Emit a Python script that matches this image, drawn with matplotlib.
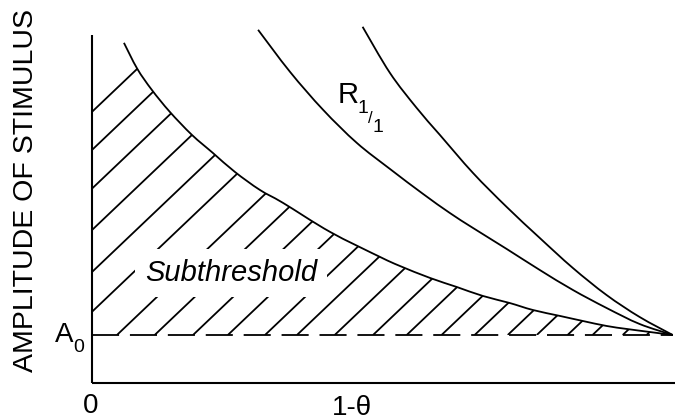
import matplotlib
matplotlib.use("Agg")
import numpy as np
import matplotlib.pyplot as plt
from matplotlib.patches import Polygon, PathPatch
from matplotlib.path import Path

plt.rcParams['font.family'] = ['Liberation Sans', 'DejaVu Sans']

# Stimulus phase (1-theta, scaled 0..1) and amplitude (in units of A0)
threshold_x = [0.055, 0.078, 0.103, 0.134, 0.172, 0.208, 0.246, 0.289, 0.329,
               0.410, 0.496, 0.530, 0.582, 0.628, 0.673, 0.719, 0.759, 0.806,
               0.845, 0.886, 0.921, 0.960, 1.000]
threshold_y = [7.083, 6.542, 6.104, 5.646, 5.167, 4.792, 4.396, 4.021, 3.750,
               3.146, 2.625, 2.438, 2.188, 2.000, 1.813, 1.667, 1.521, 1.396,
               1.292, 1.188, 1.125, 1.063, 1.000]

r11_x = [0.286, 0.341, 0.398, 0.456, 0.513, 0.570, 0.616, 0.656, 0.714, 0.771,
         0.828, 0.886, 0.943, 1.000]
r11_y = [7.354, 6.479, 5.688, 5.000, 4.458, 3.938, 3.542, 3.229, 2.792, 2.354,
         1.938, 1.563, 1.229, 1.000]

upper_x = [0.466, 0.513, 0.559, 0.599, 0.656, 0.714, 0.771, 0.828, 0.886,
           0.943, 1.000]
upper_y = [7.417, 6.458, 5.729, 5.167, 4.375, 3.667, 3.021, 2.396, 1.833,
           1.375, 1.000]

a0_level = 1.0
# where each hatch stroke crosses the A0 level
hatch_starts = [-0.404, -0.335, -0.265, -0.190, -0.114, -0.042, 0.043, 0.108,
                0.174, 0.234, 0.298, 0.353, 0.418, 0.484, 0.542, 0.602, 0.659,
                0.716, 0.766, 0.819, 0.862, 0.914, 0.955]
hatch_slope = 11.5


def smooth_path(xs, ys):
    """Cubic Bezier path passing through every given point (Catmull-Rom)."""
    p = np.column_stack([xs, ys]).astype(float)
    verts = [p[0]]
    codes = [Path.MOVETO]
    n = len(p)
    for i in range(n - 1):
        p0 = p[i - 1] if i > 0 else p[i]
        p1, p2 = p[i], p[i + 1]
        p3 = p[i + 2] if i + 2 < n else p[i + 1]
        c1 = p1 + (p2 - p0) / 6.0
        c2 = p2 - (p3 - p1) / 6.0
        verts += [c1, c2, p2]
        codes += [Path.CURVE4] * 3
    return Path(np.array(verts), codes)


W, H = 675, 420
fig = plt.figure(figsize=(W / 100, H / 100), dpi=100)
ax = fig.add_axes([92 / W, 37 / H, 583 / W, 365 / H])
ax.set_xlim(0, 1.004)
ax.set_ylim(0, 7.6)
ax.axis('off')

lw = 1.3
ink = 'black'

# axes lines
ax.plot([0, 0], [0, 7.25], color=ink, lw=1.5, clip_on=False, solid_capstyle='butt')
ax.plot([0, 1.004], [0, 0], color=ink, lw=1.5, clip_on=False, solid_capstyle='butt')

# curves
for xs, ys in [(threshold_x, threshold_y), (r11_x, r11_y), (upper_x, upper_y)]:
    ax.add_patch(PathPatch(smooth_path(xs, ys), facecolor='none',
                           edgecolor=ink, lw=lw, clip_on=False))

# A0 dashed level
ax.plot([0, 1.0], [a0_level, a0_level], color=ink, lw=lw, dashes=(15, 6),
        clip_on=False)

# hatched subthreshold region
region = [(0, a0_level), (1.0, a0_level)]
region += list(zip(threshold_x[::-1], threshold_y[::-1]))
region += [(0, threshold_y[0])]
clip = Polygon(region, closed=True, transform=ax.transData, facecolor='none',
               edgecolor='none')
for x0 in hatch_starts:
    dy = 8.0
    line, = ax.plot([x0, x0 + dy / hatch_slope], [a0_level, a0_level + dy],
                    color=ink, lw=lw, solid_capstyle='butt')
    line.set_clip_path(clip)

# labels
def fx(px):
    return px / W

def fy(py):
    return 1 - py / H

fig.text(fx(26), fy(190), 'AMPLITUDE OF STIMULUS', rotation=90,
         ha='center', va='center', fontsize=20.5, color=ink)
fig.text(fx(64), fy(342), 'A', ha='center', va='baseline', fontsize=20, color=ink)
fig.text(fx(79), fy(352), '0', ha='center', va='baseline', fontsize=14, color=ink)
fig.text(fx(91), fy(413), '0', ha='center', va='baseline', fontsize=20, color=ink)
fig.text(fx(352), fy(415), '1-θ', ha='center', va='baseline', fontsize=20, color=ink)

fig.text(fx(231), fy(281), 'Subthreshold', ha='center', va='baseline',
         fontsize=21, style='italic', color=ink,
         bbox=dict(boxstyle='square,pad=0.35', facecolor='white', edgecolor='none'))

fig.text(fx(348), fy(103), 'R', ha='center', va='baseline', fontsize=21, color=ink)
fig.text(fx(363), fy(113), '1', ha='center', va='baseline', fontsize=14, color=ink)
fig.text(fx(370), fy(123), '/', ha='center', va='baseline', fontsize=12, color=ink)
fig.text(fx(378), fy(132), '1', ha='center', va='baseline', fontsize=14, color=ink)

fig.savefig('out.png', dpi=100, facecolor='white')
